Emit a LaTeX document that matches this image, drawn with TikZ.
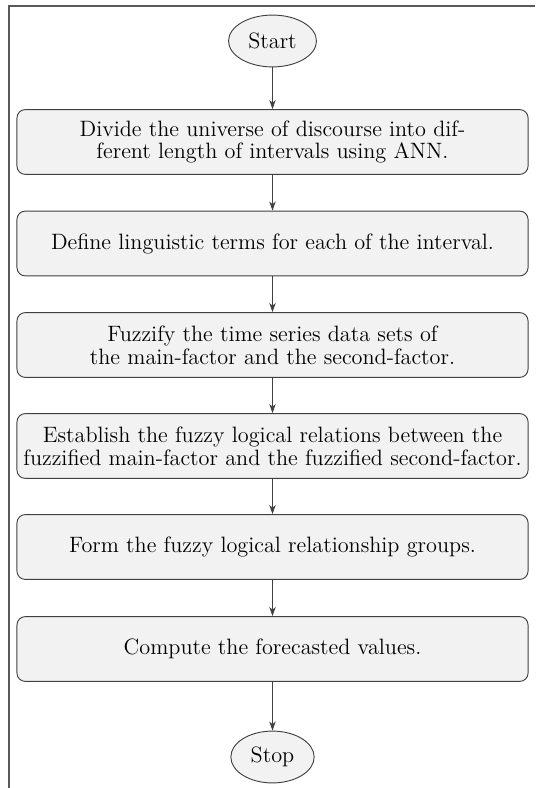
\documentclass[tikz,border=0pt]{standalone}
\usetikzlibrary{shapes.geometric,arrows.meta}
\begin{document}
\begin{tikzpicture}[x=0.54pt,y=-0.54pt,
  every node/.style={font=\fontsize{12pt}{12.2pt}\selectfont},
  stepbox/.style={draw=black!75, fill=black!5, rounded corners=4.5pt,
    minimum width=276pt, minimum height=35pt, align=center,
    line width=0.5pt, inner sep=2pt},
  term/.style={ellipse, draw=black!75, fill=black!5, minimum height=28pt,
    inner sep=0pt, line width=0.5pt},
  flow/.style={draw=black!75, line width=0.5pt,
    -{Stealth[length=5pt,width=3.5pt]}},
  edge line/.style={draw=black!65, line width=0.8pt}]

\useasboundingbox (0,0) rectangle (535,788);

% page rules on the left and the top
\coordinate (tl) at (9,6);
\coordinate (tr) at (535,6);
\coordinate (bl) at (9,788);
\draw[edge line] (bl) -- (tl) -- (tr);

% terminals
\node[term, minimum width=47.5pt] (start) at (272.5,41) {Start};
\node[term, minimum width=45pt] (stop) at (272.5,757) {Stop};

% process steps
\node[stepbox] (s1) at (272.5,142)
  {Divide the universe of discourse into dif-\\ferent length of intervals using ANN.};
\node[stepbox] (s2) at (272.5,243.5)
  {Define linguistic terms for each of the interval.};
\node[stepbox] (s3) at (272.5,345)
  {Fuzzify the time series data sets of\\the main-factor and the second-factor.};
\node[stepbox] (s4) at (272.5,446)
  {Establish the fuzzy logical relations between the\\fuzzified main-factor and the fuzzified second-factor.};
\node[stepbox] (s5) at (272.5,547)
  {Form the fuzzy logical relationship groups.};
\node[stepbox] (s6) at (272.5,649)
  {Compute the forecasted values.};

% flow arrows
\draw[flow] (start) -- (s1);
\draw[flow] (s1) -- (s2);
\draw[flow] (s2) -- (s3);
\draw[flow] (s3) -- (s4);
\draw[flow] (s4) -- (s5);
\draw[flow] (s5) -- (s6);
\draw[flow] (s6) -- (stop);
\end{tikzpicture}
\end{document}
